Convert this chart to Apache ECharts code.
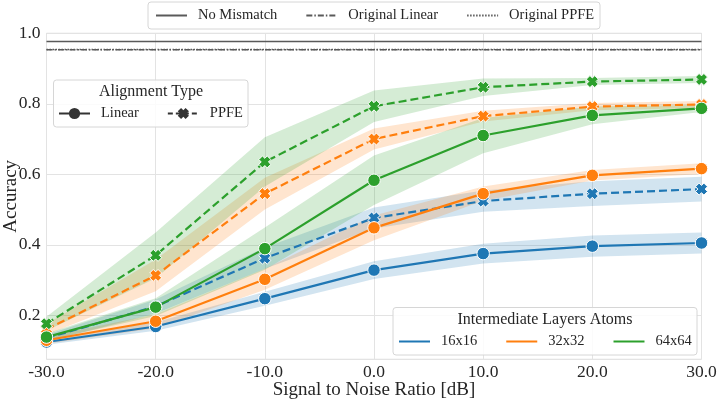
<!DOCTYPE html>
<html>
<head>
<meta charset="utf-8">
<script src="https://cdn.jsdelivr.net/npm/echarts@6/dist/echarts.min.js"></script>
<style>
  html, body { margin: 0; padding: 0; background: #fff; }
  #chart { width: 718px; height: 399px; }
</style>
</head>
<body>
<div id="chart"></div>
<script>
// values
const snr = [-30, -20, -10, 0, 10, 20, 30];
const lin16 = [0.124, 0.168, 0.247, 0.328, 0.375, 0.396, 0.405];
const ppfe16 = [0.135, 0.225, 0.362, 0.476, 0.524, 0.545, 0.558];
const lin32 = [0.129, 0.183, 0.302, 0.448, 0.545, 0.597, 0.616];
const ppfe32 = [0.160, 0.313, 0.545, 0.700, 0.765, 0.792, 0.798];
const lin64 = [0.138, 0.223, 0.389, 0.583, 0.710, 0.767, 0.787];
const ppfe64 = [0.176, 0.370, 0.635, 0.793, 0.847, 0.863, 0.869];

// half-width of the shaded bands
const err16lin = [0.008, 0.012, 0.02, 0.025, 0.028, 0.03, 0.03];
const err16ppfe = [0.01, 0.02, 0.03, 0.03, 0.03, 0.035, 0.035];
const err32lin = [0.01, 0.02, 0.03, 0.035, 0.02, 0.015, 0.015];
const err32ppfe = [0.015, 0.045, 0.045, 0.03, 0.015, 0.01, 0.01];
const err64lin = [0.01, 0.025, 0.06, 0.07, 0.05, 0.025, 0.01];
const err64ppfe = [0.02, 0.065, 0.07, 0.045, 0.025, 0.01, 0.01];

const noMismatch = 0.977;
const origLinear = 0.953;
const origPPFE = 0.954;

const yTicks = [0.2, 0.4, 0.6, 0.8, 1.0];
const atomNames = ["16x16", "32x32", "64x64"];
const colors = ["#1f77b4", "#ff7f0e", "#2ca02c"];

const FONT = "Liberation Serif";
const TXT = "#262626";
const xMark = "path://M3,0 L5,2 L7,0 L10,3 L8,5 L10,7 L7,10 L5,8 L3,10 L0,7 L2,5 L0,3 Z";

const chart = echarts.init(document.getElementById("chart"));

// shaded band drawn as one polygon through the axis scales
function band(vals, err, color) {
  const rows = snr.map((x, i) => [x, vals[i] - err[i], vals[i] + err[i]]);
  return {
    type: "custom", silent: true, z: 1, clip: true,
    data: rows,
    encode: { x: 0, y: [1, 2] },
    renderItem: function (params, api) {
      if (params.dataIndex !== 0) return;
      const top = rows.map(r => api.coord([r[0], r[2]]));
      const bot = rows.map(r => api.coord([r[0], r[1]])).reverse();
      return {
        type: "polygon",
        shape: { points: top.concat(bot) },
        style: { fill: color, opacity: 0.2 }
      };
    }
  };
}

function curve(name, vals, color, dashed) {
  return {
    name: name, type: "line",
    data: snr.map((x, i) => [x, vals[i]]),
    symbol: dashed ? xMark : "circle",
    symbolSize: dashed ? 12 : 12.5,
    showSymbol: true,
    itemStyle: { color: color, borderColor: "#fff", borderWidth: 1 },
    lineStyle: { color: color, width: 2.2, type: dashed ? [8, 4] : "solid" },
    z: 2
  };
}

function refLine(name, y, type) {
  return {
    name: name, type: "line",
    data: [[-30, y], [30, y]],
    symbol: "none",
    lineStyle: { color: "#5a5a5a", width: 1.5, type: type },
    itemStyle: { color: "#5a5a5a", opacity: 0 },
    z: 2
  };
}

const groups = [
  [lin16, err16lin, ppfe16, err16ppfe],
  [lin32, err32lin, ppfe32, err32ppfe],
  [lin64, err64lin, ppfe64, err64ppfe]
];

const series = [];
groups.forEach((g, k) => {
  series.push(band(g[0], g[1], colors[k]));
  series.push(curve(atomNames[k] + " Linear", g[0], colors[k], false));
  series.push(band(g[2], g[3], colors[k]));
  series.push(curve(atomNames[k] + " PPFE", g[2], colors[k], true));
});

series.push(refLine("No Mismatch", noMismatch, "solid"));
series.push(refLine("Original Linear", origLinear, [6, 2, 1.5, 2]));
series.push(refLine("Original PPFE", origPPFE, [1.5, 1.5]));

// legend-only entries
series.push({
  name: "Linear", type: "line", data: [], symbol: "circle", symbolSize: 11,
  itemStyle: { color: "#333" }, lineStyle: { color: "#333", width: 2.2 }
});
series.push({
  name: "PPFE", type: "line", data: [], symbol: xMark, symbolSize: 11,
  itemStyle: { color: "#333" }, lineStyle: { color: "#333", width: 2.2, type: [5, 3] }
});
atomNames.forEach((n, k) => {
  series.push({
    name: n, type: "line", data: [], symbol: "none",
    itemStyle: { color: colors[k], opacity: 0 }, lineStyle: { color: colors[k], width: 2.5 }
  });
});

const legendBase = {
  orient: "horizontal", padding: 0, itemGap: 28, itemWidth: 31, itemHeight: 14,
  selectedMode: false, z: 6,
  textStyle: { fontFamily: FONT, fontSize: 14.5, color: TXT, padding: [0, 0, 0, 6] }
};

const boxStyle = { fill: "rgba(255,255,255,0.85)", stroke: "#d6d6d6", lineWidth: 1 };

const option = {
  animation: false,
  backgroundColor: "#fff",
  grid: {
    left: 46.5, right: 16.5, top: 33.3, bottom: 39.7,
    outerBoundsMode: "none", containLabel: false,
    show: true, borderColor: "#dcdcdc", borderWidth: 1
  },
  xAxis: {
    type: "value", min: -30, max: 30, interval: 10,
    name: "Signal to Noise Ratio [dB]", nameLocation: "middle", nameGap: 21, nameMoveOverlap: false,
    nameTextStyle: { fontFamily: FONT, fontSize: 19, color: TXT },
    axisLine: { show: false }, axisTick: { show: false },
    axisLabel: { fontFamily: FONT, fontSize: 17.5, color: TXT, margin: 4, formatter: v => v.toFixed(1) },
    splitLine: { show: true, lineStyle: { color: "#e3e3e3", width: 1 } }
  },
  yAxis: {
    type: "value", min: 0.075, max: 1.0,
    name: "Accuracy", nameLocation: "middle", nameGap: 26, nameMoveOverlap: false,
    nameTextStyle: { fontFamily: FONT, fontSize: 19, color: TXT },
    axisLine: { show: false },
    axisTick: { show: false, customValues: yTicks },
    axisLabel: { fontFamily: FONT, fontSize: 17.5, color: TXT, margin: 6, customValues: yTicks, formatter: v => v.toFixed(1) },
    splitLine: { show: true, lineStyle: { color: "#e3e3e3", width: 1 } }
  },
  legend: [
    Object.assign({}, legendBase, { left: 155, top: 8, data: ["No Mismatch", "Original Linear", "Original PPFE"] }),
    Object.assign({}, legendBase, { left: 58, top: 106, data: ["Linear", "PPFE"] }),
    Object.assign({}, legendBase, { left: 398, top: 334, data: atomNames })
  ],
  graphic: [
    { type: "rect", z: 5, shape: { x: 148, y: 2, width: 452, height: 27, r: 3 }, style: boxStyle },
    { type: "rect", z: 5, shape: { x: 53.5, y: 80, width: 194.5, height: 47, r: 3 }, style: boxStyle },
    { type: "text", z: 7, style: { x: 151, y: 92, text: "Alignment Type", fill: TXT, font: "16px '" + FONT + "'", textAlign: "center", textVerticalAlign: "middle" } },
    { type: "rect", z: 5, shape: { x: 393, y: 307.5, width: 304, height: 47.5, r: 3 }, style: boxStyle },
    { type: "text", z: 7, style: { x: 545, y: 320, text: "Intermediate Layers Atoms", fill: TXT, font: "16px '" + FONT + "'", textAlign: "center", textVerticalAlign: "middle" } }
  ],
  series: series
};

chart.setOption(option);
</script>
</body>
</html>
